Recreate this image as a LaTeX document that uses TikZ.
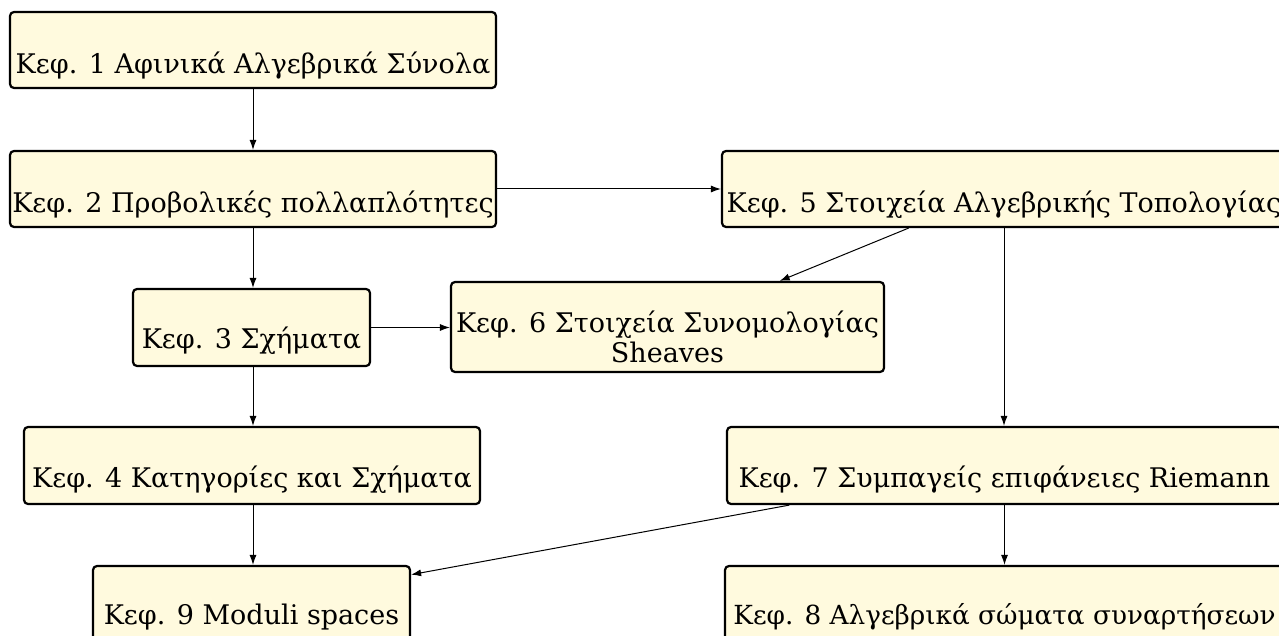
\documentclass[tikz,border=0pt]{standalone}
\usepackage{fontspec}
\setmainfont{DejaVu Serif}
\usetikzlibrary{arrows.meta}
\definecolor{boxfill}{RGB}{255,250,222}
\tikzset{
  chapbox/.style={draw=black, line width=2.2pt, rounded corners=4pt, fill=boxfill,
    inner sep=0pt, anchor=base, font=\fontsize{27}{29}\selectfont},
  arr/.style={draw=black, line width=1pt, -{Latex[length=10pt,width=7pt]}}
}
\begin{document}
\begin{tikzpicture}[x=1pt,y=-1pt]
\useasboundingbox (0,0) rectangle (1279,636);
\fill[white] (0,0) rectangle (1279,636);
\node[chapbox, minimum width=486pt, text height=62pt, text depth=14pt] (b1) at (253,74) {Κεφ. 1 Αφινικά Αλγεβρικά Σύνολα};
\node[chapbox, minimum width=486pt, text height=62pt, text depth=14pt] (b2) at (253,213) {Κεφ. 2 Προβολικές πολλαπλότητες};
\node[chapbox, minimum width=564pt, text height=62pt, text depth=14pt] (b5) at (1004,213) {Κεφ. 5 Στοιχεία Αλγεβρικής Τοπολογίας};
\node[chapbox, minimum width=237pt, text height=59pt, text depth=18pt] (b3) at (251.5,348) {Κεφ. 3 Σχήματα};
\node[chapbox, minimum width=433pt, text height=80pt, text depth=10pt] (b6) at (667.5,362) {\begin{tabular}[b]{@{}c@{}}Κεφ. 6 Στοιχεία Συνομολογίας\\Sheaves\end{tabular}};
\node[chapbox, minimum width=456pt, text height=60pt, text depth=17pt] (b4) at (252,487) {Κεφ. 4 Κατηγορίες και Σχήματα};
\node[chapbox, minimum width=555pt, text height=60pt, text depth=17pt] (b7) at (1004.5,487) {Κεφ. 7 Συμπαγείς επιφάνειες Riemann};
\node[chapbox, minimum width=317pt, text height=58pt, text depth=18pt] (b9) at (251.5,624) {Κεφ. 9 Moduli spaces};
\node[chapbox, minimum width=559pt, text height=58pt, text depth=18pt, font=\fontsize{26.3}{29}\selectfont] (b8) at (1004.5,624) {Κεφ. 8 Αλγεβρικά σώματα συναρτήσεων};
\draw[arr] (b1) -- (b2);
\draw[arr] (b2) -- (b5);
\draw[arr] (b2.south) -- (b2.south |- b3.north);
\draw[arr] (b3.east) -- (b3.east -| b6.west);
\draw[arr] (b5) -- (b6);
\draw[arr] (b5.south) -- (b5.south |- b7.north);
\draw[arr] (b2.south |- b3.south) -- (b2.south |- b4.north);
\draw[arr] (b2.south |- b4.south) -- (b2.south |- b9.north);
\draw[arr] (b7) -- (b9);
\draw[arr] (b7.south) -- (b7.south |- b8.north);
\end{tikzpicture}
\end{document}
